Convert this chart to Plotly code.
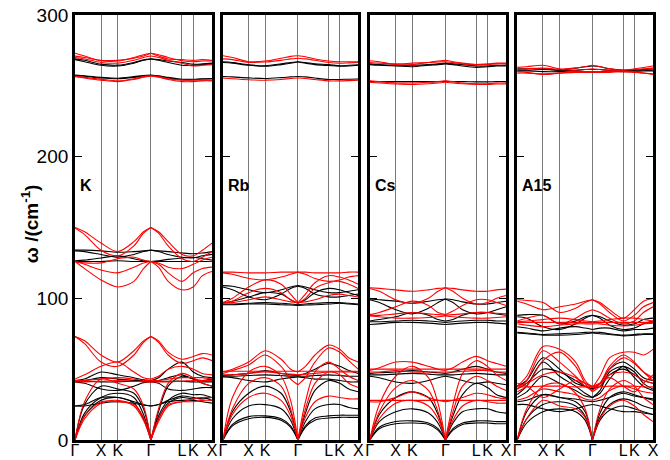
import plotly.graph_objects as go

# k-path nodes (fraction of panel width)
k_nodes = [0, 0.07, 0.19, 0.312, 0.43, 0.50, 0.554, 0.61, 0.68, 0.781, 0.863, 0.93, 1.0]
k_ticks = [0, 0.19, 0.312, 0.554, 0.781, 0.863, 1.0]
k_labels = ["Γ", "X", "K", "Γ", "L", "K", "X"]
panel_names = ["K", "Rb", "Cs", "A15"]
y_ticks = [0, 100, 200, 300]

# ---------------- Panel K ----------------
k_black = [
    [269, 268, 265.3, 264.6, 266.5, 268.3, 269, 268.5, 267.5, 266.5, 265.3, 265.5, 266],
    [268.5, 267, 264.5, 264, 266, 268, 269, 268, 266.5, 264.5, 264.5, 265, 265.5],
    [257.6, 257, 256, 255.4, 256.5, 257.3, 257.6, 257, 256, 254.7, 254.7, 255, 255.2],
    [257.3, 256.8, 255.5, 255, 256, 257, 257.3, 256.8, 255.5, 254.3, 254.3, 254.8, 255],
    [134, 134, 133.5, 132.5, 133, 133.5, 134, 133.5, 133, 132, 131.5, 132, 133],
    [133.5, 133, 131, 129, 131, 133, 134, 133, 131, 129, 128.5, 130, 131],
    [126.5, 127, 128.5, 130, 128, 126.5, 126, 126.5, 127.5, 128.5, 129, 128, 127],
    [126, 126, 126, 126.5, 126, 126, 126, 126, 126, 126, 126, 126, 126.2],
    [0, 17, 28, 30, 26, 15, 0, 15, 26, 30, 29, 30, 28],
    [0, 19, 30, 33, 30, 18, 0, 17, 28, 33, 32, 32, 30],
    [0, 25, 38, 36, 33, 22, 0, 20, 38, 45, 43, 40, 38],
    [24, 25, 30, 30, 27, 25, 24, 25, 28, 31, 30, 29, 30],
    [24, 24, 26, 27, 26, 24.5, 24, 25, 27, 28, 28, 27, 26],
    [41.5, 41.5, 41, 41, 41.5, 41.5, 41.5, 41.5, 41.5, 41.5, 41, 41, 41],
    [41, 40, 36, 35, 38, 40.5, 41, 40, 36, 35, 36, 37, 37],
    [42, 43, 48, 46, 44, 42.5, 42, 44, 50, 55, 48, 45, 44],
    [42, 42, 44, 43, 42, 42, 42, 42, 44, 46, 43, 42, 43],
]
k_red = [
    [273, 271, 267.7, 267.5, 270, 272, 273, 272, 270, 267.7, 267, 267.5, 267.5],
    [271, 270, 268, 268, 269.5, 271, 273, 271, 269, 268.5, 268, 268.5, 268],
    [270, 269, 266.5, 266, 268, 270, 271, 270, 268, 266, 264, 264.5, 265],
    [257, 256, 254.7, 253.5, 255, 256.5, 257, 256.5, 255, 254, 254, 254, 254],
    [256.5, 255.5, 254, 253, 254.5, 256, 257, 256, 254.5, 253, 253, 253.5, 253.5],
    [150, 147, 139, 133, 140, 147, 150, 147, 140, 131, 130, 134, 139],
    [149.5, 145, 134, 130, 137, 146, 150, 146, 137, 128, 126, 129, 133],
    [126, 125, 125, 128, 129, 127, 126, 125, 122, 121, 124, 127, 129],
    [126, 124, 120, 118, 122, 125, 126, 124, 118, 112, 118, 121, 122],
    [126, 121, 113, 108, 112, 121, 126, 122, 112, 106, 108, 116, 119],
    [0, 15, 26, 28, 24, 14, 0, 13, 24, 27, 27, 28, 28],
    [0, 17, 27, 27, 25, 16, 0, 15, 25, 27, 29, 30, 30],
    [0, 27, 43, 40, 36, 24, 0, 22, 40, 47, 44, 40, 38],
    [41, 41, 41.5, 42, 41.5, 41, 41, 41, 41, 41.5, 42, 42, 42],
    [42, 42, 43, 44, 43, 42, 42, 42, 43, 44, 44, 44, 43],
    [73, 70, 60, 55, 63, 70, 73, 70, 62, 57, 59, 61, 60],
    [73, 68, 55, 52, 60, 69, 73, 69, 60, 54, 56, 58, 56],
    [43, 46, 52, 55, 48, 44, 43, 45, 50, 52, 50, 47, 46],
]

# ---------------- Panel Rb ----------------
rb_black = [
    [267, 266.5, 264.9, 264.2, 265.5, 266.5, 267, 266.5, 265.5, 265, 264.2, 264.5, 264.9],
    [266.5, 266, 264.5, 263.8, 265, 266, 266.8, 266, 265, 264.3, 263.8, 264, 264.5],
    [256.6, 256.3, 255.6, 255.2, 255.8, 256.3, 256.6, 256.3, 255.5, 254.5, 254.5, 254.7, 254.8],
    [109, 108.5, 106, 104, 106, 108, 109, 108, 106, 104, 104, 105, 106],
    [108, 106, 101, 99, 103, 107, 108.5, 107, 103, 101, 101, 102, 103],
    [97, 98, 101, 104, 103, 99, 96.5, 99, 104, 107, 106, 104, 102],
    [96, 96, 96.5, 97, 96.5, 96, 95.5, 96, 96.5, 97, 97, 96.5, 96],
    [95.5, 95.5, 96, 96, 95.5, 95.3, 95, 95.3, 95.5, 96, 96.5, 96, 95.5],
    [0, 10, 15, 16, 14, 9, 0, 9, 14, 15.5, 16, 16, 16],
    [0, 11, 16.5, 17, 15, 10, 0, 10, 15.5, 17, 17.5, 17.5, 17.5],
    [0, 15, 24, 25, 22, 14, 0, 13, 22, 25, 25, 23, 22],
    [0, 20, 33, 38, 33, 20, 0, 19, 35, 42, 40, 36, 34],
    [45, 45, 45.5, 46, 45.5, 45, 45, 45, 45.5, 46, 45.5, 45, 45],
    [45.5, 46, 47, 49, 47, 46, 45.5, 47, 50, 54, 52, 49, 47],
    [44.5, 44, 42, 41, 43, 44, 44.5, 44, 43, 43, 42, 41, 41],
]
rb_red = [
    [271.2, 270, 267, 267.5, 269.5, 270.8, 271.2, 270.5, 269, 267.5, 267, 267, 267],
    [269, 268.5, 266.5, 266.8, 268, 269, 269.5, 269, 268, 266.5, 266, 266.2, 266.5],
    [255.5, 255, 254.3, 254, 254.5, 255.2, 255.5, 255.2, 254.5, 253.5, 253.5, 253.7, 254],
    [118.5, 118.5, 118, 118, 118.5, 118.5, 118.5, 118.5, 118, 118, 118, 118.5, 118.5],
    [118, 117, 114, 113, 115, 117, 118.5, 117, 114, 112, 113, 115, 116],
    [97, 100, 108, 113, 110, 103, 97, 103, 111, 116, 115, 113, 110],
    [96.5, 98, 104, 107, 104, 99, 96.5, 100, 107, 111, 112, 110, 107],
    [97, 97, 99, 101, 99, 97.5, 97, 97.5, 99, 102, 103, 102, 101],
    [0, 18, 30, 33, 28, 17, 0, 16, 27, 31, 30, 29, 29],
    [0, 22, 40, 44, 38, 22, 0, 22, 40, 48, 46, 40, 37],
    [0, 30, 48, 52, 45, 28, 0, 27, 48, 55, 50, 45, 42],
    [48.5, 48.5, 48.5, 48.5, 48.5, 48.5, 48.5, 48.5, 48.5, 48.5, 48.5, 48.5, 48.5],
    [48, 50, 55, 63, 57, 50, 48, 52, 60, 67, 64, 58, 55],
    [47, 49, 53, 60, 52, 43, 39, 44, 55, 65, 62, 56, 50],
    [46, 46, 47, 48, 47, 46.5, 46, 46.5, 47, 48, 48, 48, 48],
]

# ---------------- Panel Cs ----------------
cs_black = [
    [265.5, 265, 264.5, 264.5, 265, 265.5, 266, 265.5, 265, 264, 264, 264.5, 264.5],
    [265, 264.5, 264, 263.5, 264.5, 265, 265.5, 265, 264, 263, 263.5, 264, 264],
    [253, 253, 253, 253, 253, 253, 253.2, 253, 253, 252.8, 252.8, 253, 253],
    [99.5, 99, 98, 96.5, 98, 99, 99.5, 99, 97.5, 96, 96, 97, 98],
    [99, 97, 92, 89, 93, 97, 99.5, 97, 92, 89, 90, 92, 94],
    [84, 85, 87, 90, 88, 85, 84, 85, 88, 90, 90, 89, 88],
    [83.5, 83.5, 84, 84.5, 84, 83.5, 83, 83.5, 84, 84.5, 84.5, 84, 84],
    [81.5, 82, 83, 83, 82.5, 82, 81.5, 82, 82.5, 83, 83, 82.5, 82],
    [0, 8, 11.5, 12, 11, 7, 0, 7, 11, 12, 12, 11.5, 11.5],
    [0, 9, 13, 13.5, 12, 8, 0, 8, 12, 13.5, 13.5, 13, 13],
    [0, 13, 20, 22, 19, 12, 0, 12, 20, 22, 22, 20, 19],
    [0, 18, 30, 34, 30, 18, 0, 17, 32, 40, 37, 32, 30],
    [46, 46, 46.5, 47, 46.5, 46, 46, 46, 46.5, 47, 46.5, 46, 46],
    [47, 47.5, 48, 49, 48, 47.5, 47, 48, 50, 52, 50, 48, 47],
    [45, 44, 41, 40, 42, 44, 45, 44, 42, 40, 41, 40, 39],
]
cs_red = [
    [267.7, 267, 265, 265, 266.5, 267.5, 268, 267, 266, 265, 265, 265.5, 265.5],
    [266.5, 266, 265.5, 266, 266.5, 266.8, 267, 266.5, 265.5, 265, 265.5, 266, 266],
    [252.5, 252, 251.3, 251, 251.5, 252, 252.5, 252, 251.5, 251, 251, 251.3, 251.3],
    [253.5, 253, 252, 252, 252.5, 253, 253.5, 253, 252, 251.5, 251.5, 252, 252],
    [107.5, 107, 106, 105, 106, 107, 107.5, 107, 106, 105, 105, 106, 106.5],
    [107, 105, 99, 96.5, 100, 105, 107.5, 105, 100, 96, 97, 100, 102],
    [88.5, 90, 94, 98, 95, 90, 88.5, 91, 95, 99, 99, 97, 95],
    [88, 88, 89, 90, 89, 88.5, 88, 88.5, 89, 90, 90, 89.5, 89],
    [87.5, 87, 86, 86, 86.5, 87, 87.5, 87, 86.5, 86, 86, 86.5, 87],
    [0, 15, 26, 28, 24, 15, 0, 14, 24, 28, 27, 26, 26],
    [0, 20, 37, 42, 35, 20, 0, 20, 38, 45, 42, 38, 35],
    [0, 25, 45, 52, 44, 26, 0, 25, 47, 56, 52, 46, 42],
    [28, 28, 28, 28, 28, 28, 28, 28, 28, 28, 28, 28, 28],
    [27, 27, 30, 34, 30, 28, 27, 28, 30, 33, 32, 30, 29],
    [50, 50, 50, 50, 50, 50, 50, 50, 50, 50, 50, 50, 50],
    [49, 51, 55, 55, 52, 50, 49, 51, 55, 59, 56, 54, 52],
    [48, 48, 49, 48, 48, 48, 48, 48, 48.5, 49, 49, 48, 48],
]

# ---------------- Panel A15 ----------------
a15_black = [
    [262, 262, 262, 261, 262.5, 263.5, 264, 263.5, 262, 261, 261, 261.5, 262],
    [261, 261, 261.5, 261, 261, 261.5, 261.5, 261.5, 261, 261, 261, 261, 261],
    [260.5, 260.5, 260, 260, 260.5, 260, 259.5, 260, 260.5, 260, 260, 260.5, 260.5],
    [88, 88.5, 88, 82, 84, 87, 88, 87, 84, 81, 82, 85, 86],
    [87, 86, 80, 78, 82, 86, 88, 86, 81, 78, 79, 82, 84],
    [80, 79, 77, 79, 80, 79, 78, 79, 79, 77, 78, 78, 79],
    [76, 75.5, 74.5, 75, 75.5, 76, 76, 76, 75, 74, 74.5, 75, 75],
    [75.5, 75, 74, 74, 74.5, 75, 75.5, 75, 74.5, 73.5, 74, 74.5, 74.5],
    [0, 12, 20, 22, 20, 14, 0, 14, 21, 24, 22, 20, 18],
    [0, 15, 25, 27, 24, 17, 0, 16, 25, 29, 27, 24, 22],
    [0, 20, 32, 30, 27, 20, 0, 19, 30, 34, 32, 30, 28],
    [27, 28, 32, 30, 29, 27.5, 27, 28, 30, 33, 31, 30, 29],
    [30, 34, 45, 40, 35, 31, 30, 33, 43, 52, 44, 38, 35],
    [32, 38, 55, 45, 38, 33, 30, 35, 48, 52, 48, 40, 36],
    [36, 40, 50, 48, 42, 38, 36, 38, 46, 50, 46, 42, 40],
    [38, 42, 58, 50, 40, 38, 36, 40, 50, 55, 50, 44, 42],
    [25, 25, 22, 20, 22, 24, 25, 24, 22, 20, 20, 19, 18],
]
a15_red = [
    [263, 263.5, 264.5, 262, 262.5, 263.5, 264.5, 263.5, 262, 261, 262, 263, 264],
    [260, 259.5, 258, 259, 260, 260, 260, 260, 260, 260.5, 260, 259, 258],
    [261.5, 262, 262.5, 261.5, 261, 261.5, 262, 261.5, 261, 261, 261.5, 262, 262.5],
    [259, 259, 258.5, 259, 259.5, 259.5, 259.5, 259.5, 259.5, 260, 259.5, 259, 258.5],
    [99, 98.5, 97, 90, 93, 97, 99, 97, 92, 86, 92, 98, 100],
    [98, 96, 92, 94, 96, 98, 99, 96, 90, 84, 88, 94, 97],
    [83.5, 84, 85, 86, 85, 84, 83.5, 84, 85, 86, 86, 85, 84],
    [83, 83, 83, 83, 83, 83, 83, 83, 83, 83, 83, 83, 83],
    [84, 86, 88, 82, 86, 90, 92, 90, 86, 82, 84, 90, 94],
    [82, 81, 80, 81, 82, 82, 82, 82, 81, 80.5, 81, 82, 82.5],
    [0, 15, 28, 24, 22, 16, 0, 15, 24, 28, 24, 18, 13],
    [0, 22, 38, 40, 33, 22, 0, 22, 36, 42, 38, 30, 25],
    [37.5, 37.5, 38, 38, 37.5, 37.5, 37.5, 37.5, 38, 38, 38, 37.5, 37.5],
    [38, 40, 46, 48, 44, 40, 37, 40, 46, 48, 46, 42, 40],
    [36, 42, 63, 55, 45, 38, 35, 40, 52, 60, 55, 48, 42],
    [38, 45, 66, 64, 55, 42, 37, 45, 58, 62, 62, 60, 64],
    [34, 38, 56, 62, 52, 40, 34, 38, 50, 58, 54, 48, 44],
    [28, 30, 36, 34, 32, 29, 28, 30, 35, 38, 36, 34, 33],
    [40, 38, 30, 36, 42, 40, 38, 40, 44, 38, 34, 40, 46],
]

panels = [(k_black, k_red), (rb_black, rb_red), (cs_black, cs_red), (a15_black, a15_red)]
domains = [[0, 0.237], [0.256, 0.490], [0.510, 0.746], [0.765, 1.0]]
SPLIT = 6  # index of central Gamma point


def band_xy(bands):
    xs, ys = [], []
    for b in bands:
        for seg in (range(0, SPLIT + 1), range(SPLIT, len(k_nodes))):
            xs.extend([k_nodes[i] for i in seg] + [None])
            ys.extend([b[i] for i in seg] + [None])
    return xs, ys


fig = go.Figure()

for p, (blk, red) in enumerate(panels):
    ax = "" if p == 0 else str(p + 1)
    for bands, col in ((blk, "black"), (red, "#ff0000")):
        xs, ys = band_xy(bands)
        fig.add_trace(go.Scatter(x=xs, y=ys, mode="lines",
                                 line=dict(color=col, width=1.1, shape="spline", smoothing=0.9),
                                 xaxis="x" + ax, yaxis="y" + ax, hoverinfo="skip",
                                 showlegend=False, connectgaps=False))
    xa = dict(domain=domains[p], range=[0, 1], tickvals=k_ticks, ticktext=k_labels,
              tickangle=0, automargin=False, ticklabelstandoff=-6,
              showgrid=True, gridcolor="#7a7a7a", gridwidth=1.4, zeroline=False,
              showline=True, linecolor="black", linewidth=2.8, mirror=True,
              ticks="", tickfont=dict(family="Liberation Sans", size=16, color="black"),
              anchor="y" + ax, fixedrange=True)
    ya = dict(range=[0, 300], tickvals=y_ticks, showgrid=False, zeroline=False,
              showline=True, linecolor="black", linewidth=2.8, mirror="ticks",
              ticks="inside", ticklen=7, tickwidth=1.2, tickcolor="black",
              showticklabels=(p == 0), automargin=False,
              tickfont=dict(family="Liberation Sans", size=19, color="black"),
              anchor="x" + ax, fixedrange=True)
    fig.layout["xaxis" + ax] = xa
    fig.layout["yaxis" + ax] = ya
    fig.add_annotation(x=0.02, y=180, xref="x" + ax, yref="y" + ax, text="<b>%s</b>" % panel_names[p],
                       showarrow=False, xanchor="left", yanchor="middle",
                       font=dict(family="Liberation Sans", size=16, color="black"))

# y-axis title
fig.add_annotation(x=-0.078, y=0.51, xref="paper", yref="paper",
                   text="<b>ω /(cm<sup>-1</sup>)</b>", textangle=-90, showarrow=False,
                   xanchor="center", yanchor="middle",
                   font=dict(family="Liberation Sans", size=19, color="black"))

fig.update_layout(width=670, height=460, margin=dict(l=75, r=17, t=15, b=20),
                  plot_bgcolor="white", paper_bgcolor="white", showlegend=False)
fig.write_html("out.html", config={"displayModeBar": False},
               post_script="document.body.style.margin='0';document.body.style.overflow='hidden';")
